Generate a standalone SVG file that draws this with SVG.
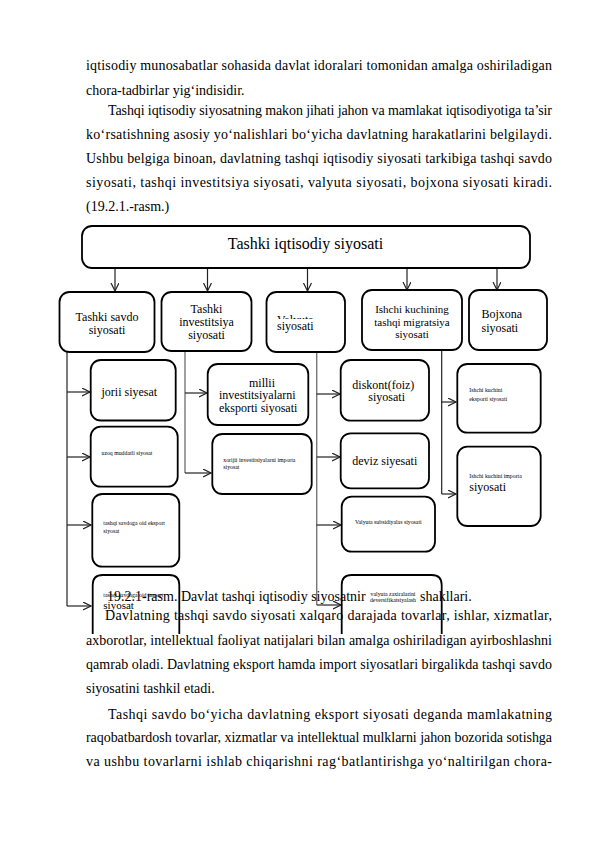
<svg xmlns="http://www.w3.org/2000/svg" width="596" height="842" viewBox="0 0 596 842">
<style>
.body{font-family:"Liberation Serif","Times New Roman",serif;font-size:14px;fill:#000}
.box{fill:none;stroke:#000;stroke-width:1.8}
.t12{font-family:"Liberation Serif","Times New Roman",serif;font-size:12px;fill:#000}
.t11{font-family:"Liberation Serif","Times New Roman",serif;font-size:11px;fill:#000}
.tiny{font-family:"Liberation Serif","Times New Roman",serif;font-size:5.8px;fill:#000}
.c{text-anchor:middle}
.ln{fill:none;stroke:#222;stroke-width:1.2}
.lg{fill:none;stroke:#777;stroke-width:1.4}
</style>
<defs>
<marker id="ah" markerUnits="userSpaceOnUse" markerWidth="10" markerHeight="10" refX="8" refY="4" orient="auto">
<path d="M0,0 L8,4 L0,8" fill="none" stroke="#222" stroke-width="1.2"/>
</marker>
<clipPath id="valclip"><rect x="270" y="300" width="70" height="19"/></clipPath>
</defs>
<rect width="596" height="842" fill="#fff"/>

<g id="text-top">
<text class="body" x="86" y="70" textLength="466" lengthAdjust="spacing">iqtisodiy munosabatlar sohasida davlat idoralari tomonidan amalga oshiriladigan</text>
<text class="body" x="86" y="95">chora-tadbirlar yig‘indisidir.</text>
<text class="body" x="108" y="115" textLength="444" lengthAdjust="spacing">Tashqi iqtisodiy siyosatning makon jihati jahon va mamlakat iqtisodiyotiga ta’sir</text>
<text class="body" x="86" y="139" textLength="466" lengthAdjust="spacing">ko‘rsatishning asosiy yo‘nalishlari bo‘yicha davlatning harakatlarini belgilaydi.</text>
<text class="body" x="86" y="163" textLength="466" lengthAdjust="spacing">Ushbu belgiga binoan, davlatning tashqi iqtisodiy siyosati tarkibiga tashqi savdo</text>
<text class="body" x="86" y="187" textLength="466" lengthAdjust="spacing">siyosati, tashqi investitsiya siyosati, valyuta siyosati, bojxona siyosati kiradi.</text>
<text class="body" x="86" y="211">(19.2.1.-rasm.)</text>
</g>

<g id="connectors">
<line class="ln" x1="115" y1="268" x2="115" y2="291" marker-end="url(#ah)"/>
<line class="ln" x1="207.5" y1="268" x2="207.5" y2="291" marker-end="url(#ah)"/>
<line class="ln" x1="307.5" y1="268" x2="307.5" y2="291" marker-end="url(#ah)"/>
<line class="ln" x1="407" y1="268" x2="407" y2="290" marker-end="url(#ah)"/>
<line class="ln" x1="497" y1="268" x2="497" y2="290" marker-end="url(#ah)"/>
<polyline class="ln" points="67,352 67,606"/>
<line class="ln" x1="67" y1="392" x2="90" y2="392" marker-end="url(#ah)"/>
<line class="ln" x1="67" y1="457" x2="90" y2="457" marker-end="url(#ah)"/>
<line class="ln" x1="67" y1="525" x2="91" y2="525" marker-end="url(#ah)"/>
<line class="ln" x1="67" y1="606" x2="91" y2="606" marker-end="url(#ah)"/>
<polyline class="lg" points="185,351 185,473"/>
<line class="ln" x1="185" y1="393" x2="207" y2="393" marker-end="url(#ah)"/>
<line class="ln" x1="185" y1="473" x2="211" y2="473" marker-end="url(#ah)"/>
<polyline class="lg" points="316.7,352 316.7,605"/>
<line class="ln" x1="316.7" y1="394" x2="340" y2="394" marker-end="url(#ah)"/>
<line class="ln" x1="316.7" y1="457" x2="340" y2="457" marker-end="url(#ah)"/>
<line class="ln" x1="316.7" y1="525" x2="341" y2="525" marker-end="url(#ah)"/>
<line class="ln" x1="316.7" y1="605" x2="341" y2="605" marker-end="url(#ah)"/>
<polyline class="ln" points="441.7,350 441.7,494"/>
<line class="ln" x1="441.7" y1="402" x2="456" y2="402" marker-end="url(#ah)"/>
<line class="ln" x1="441.7" y1="494" x2="456" y2="494" marker-end="url(#ah)"/>
</g>

<g id="root">
<rect class="box" x="82" y="226" width="448" height="42" rx="10"/>
<text x="305.5" y="249" class="c" font-family="Liberation Serif, Times New Roman, serif" font-size="16">Tashki iqtisodiy siyosati</text>
</g>

<g id="n-savdo">
<rect class="box" x="59.5" y="292" width="95" height="60" rx="10"/>
<text class="t12 c" x="107" y="321">Tashki savdo</text>
<text class="t12 c" x="107" y="334">siyosati</text>
</g>
<g id="n-invest">
<rect class="box" x="161.5" y="292" width="90" height="59" rx="10"/>
<text class="t12 c" x="206.5" y="313">Tashki</text>
<text class="t12 c" x="206.5" y="326">investitsiya</text>
<text class="t12 c" x="206.5" y="339">siyosati</text>
</g>
<g id="n-valyuta">
<rect class="box" x="266.5" y="292" width="78.5" height="60" rx="10"/>
<text class="t12" x="277" y="324" clip-path="url(#valclip)">Valyuta</text>
<text class="t12" x="277" y="330">siyosati</text>
</g>
<g id="n-ishchi">
<rect class="box" x="362" y="290" width="100" height="60" rx="10"/>
<text class="t11 c" x="412" y="313">Ishchi kuchining</text>
<text class="t11 c" x="412" y="326">tashqi migratsiya</text>
<text class="t11 c" x="412" y="338">siyosati</text>
</g>
<g id="n-bojxona">
<rect class="box" x="469" y="290" width="78" height="60" rx="10"/>
<text class="t12" x="481.5" y="318">Bojxona</text>
<text class="t12" x="481.5" y="332">siyosati</text>
</g>

<g id="n-jorii">
<rect class="box" x="90.7" y="360" width="85" height="60.5" rx="10"/>
<text class="t12" x="101.5" y="396">jorii siyesat</text>
</g>
<g id="n-uzoq">
<rect class="box" x="90.7" y="426.7" width="87" height="60" rx="10"/>
<text class="tiny" x="101.5" y="455">uzoq muddatli siyosat</text>
</g>
<g id="n-eksport">
<rect class="box" x="92.3" y="494" width="87" height="72.7" rx="10"/>
<text class="tiny" x="103.3" y="525">tashqi savdoga oid eksport</text>
<text class="tiny" x="103.3" y="533">siyosat</text>
</g>
<g id="n-import">
<path class="box" d="M92.7,634 L92.7,585 Q92.7,575 102.7,575 L169.3,575 Q179.3,575 179.3,585 L179.3,634"/>
</g>

<g id="n-millii">
<rect class="box" x="207.7" y="364" width="100.6" height="61" rx="10"/>
<text class="t12 c" x="262" y="387">millii</text>
<text class="t12" x="219" y="399">investitsiyalarni</text>
<text class="t12" x="219" y="412">eksporti siyosati</text>
</g>
<g id="n-xorijii">
<rect class="box" x="212.3" y="434" width="99.4" height="60" rx="10"/>
<text class="tiny" x="223.3" y="462">xorijii investitsiyalarni importa</text>
<text class="tiny" x="223.3" y="469">siyosat</text>
</g>

<g id="n-diskont">
<rect class="box" x="340.7" y="360" width="88.3" height="60.7" rx="10"/>
<text class="t12" x="352.3" y="389">diskont(foiz)</text>
<text class="t12" x="368.3" y="401">siyosati</text>
</g>
<g id="n-deviz">
<rect class="box" x="340.7" y="433.3" width="88.3" height="55" rx="10"/>
<text class="t12" x="352.3" y="465">deviz siyesati</text>
</g>
<g id="n-subsid">
<rect class="box" x="341.7" y="496.7" width="93.3" height="55" rx="10"/>
<text class="tiny c" x="388.3" y="523.5">Valyuta subsidiyalas siyosati</text>
</g>
<g id="n-zaxira">
<path class="box" d="M341.7,634 L341.7,585 Q341.7,575 351.7,575 L431.7,575 Q441.7,575 441.7,585 L441.7,634"/>
</g>

<g id="n-ish-eks">
<rect class="box" x="457.3" y="364" width="83.4" height="68.7" rx="10"/>
<text class="tiny" x="469.3" y="392">Ishchi kuchini</text>
<text class="tiny" x="469.3" y="401">eksporti siyosati</text>
</g>
<g id="n-ish-imp">
<rect class="box" x="457.3" y="446.7" width="83.4" height="79.3" rx="10"/>
<text class="tiny" x="469.3" y="478">Ishchi kuchini importa</text>
<text class="t12" x="469.3" y="491">siyosati</text>
</g>

<g id="text-bottom">
<text class="body" x="107" y="601">19.2.1-rasm. Davlat tashqi iqtisodiy siyosatnir</text>
<text class="body" x="420" y="601">shakllari.</text>
<text class="body" x="105" y="620" textLength="447" lengthAdjust="spacing">Davlatning tashqi savdo siyosati xalqaro darajada tovarlar, ishlar, xizmatlar,</text>
<text class="body" x="86" y="645" textLength="466" lengthAdjust="spacing">axborotlar, intellektual faoliyat natijalari bilan amalga oshiriladigan ayirboshlashni</text>
<text class="body" x="86" y="669" textLength="466" lengthAdjust="spacing">qamrab oladi. Davlatning eksport hamda import siyosatlari birgalikda tashqi savdo</text>
<text class="body" x="86" y="693">siyosatini tashkil etadi.</text>
<text class="body" x="108" y="719" textLength="444" lengthAdjust="spacing">Tashqi savdo bo‘yicha davlatning eksport siyosati deganda mamlakatning</text>
<text class="body" x="86" y="742" textLength="466" lengthAdjust="spacing">raqobatbardosh tovarlar, xizmatlar va intellektual mulklarni jahon bozorida sotishga</text>
<text class="body" x="86" y="766" textLength="466" lengthAdjust="spacing">va ushbu tovarlarni ishlab chiqarishni rag‘batlantirishga yo‘naltirilgan chora-</text>
</g>

<g id="n-import-text">
<text class="tiny" x="103.3" y="597">tashqi savdoga oid import</text>
<text class="t11" x="103.3" y="609">siyosat</text>
</g>
<g id="n-zaxira-text">
<text class="tiny c" x="393" y="595.5">valyuta zaxiralarini</text>
<text class="tiny c" x="393" y="601.5">deversifikatsiyalash</text>
</g>
</svg>
